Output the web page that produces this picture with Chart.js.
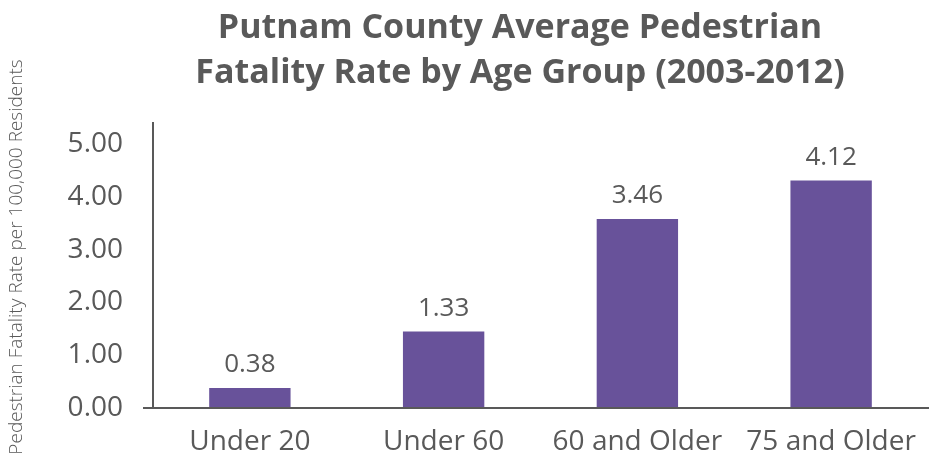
<!DOCTYPE html>
<html>
<head>
<meta charset="utf-8">
<script src="https://cdn.jsdelivr.net/npm/chart.js@4"></script>
<style>
  html, body { margin: 0; padding: 0; background: #fff; }
  #wrap { width: 937px; height: 455px; }
</style>
</head>
<body>
<div id="wrap"><canvas id="myChart" width="937" height="455"></canvas></div>
<script>
// chart data
const ageGroups = ['Under 20', 'Under 60', '60 and Older', '75 and Older']
// bar heights as drawn in the picture
const barHeights = [0.38, 1.45, 3.58, 4.31]
// numbers printed above the bars
const printedRates = ['0.38', '1.33', '3.46', '4.12']
const yTickValues = [0, 1, 2, 3, 4, 5]
const titleLines = ['Putnam County Average Pedestrian', 'Fatality Rate by Age Group (2003-2012)']
const yTitle = 'Pedestrian Fatality Rate per 100,000 Residents'

const grey = '#595959'
const purple = '#68529A'
const fontName = "'Open Sans', 'Noto Sans', sans-serif"

// draws the title lines, the y axis title and the numbers above the bars
const textPlugin = {
    id: 'textPlugin',
    afterDatasetsDraw(chart) {
        const ctx = chart.ctx
        ctx.save()
        ctx.fillStyle = grey
        ctx.textAlign = 'center'
        ctx.textBaseline = 'alphabetic'
        ctx.font = `bold 34px ${fontName}`
        ctx.fillText(titleLines[0], 520, 38)
        ctx.fillText(titleLines[1], 520, 83)

        ctx.font = `26px ${fontName}`
        ctx.textBaseline = 'middle'
        const meta = chart.getDatasetMeta(0)
        meta.data.forEach((bar, i) => {
            ctx.fillText(printedRates[i], bar.x, bar.y - 23)
        })

        ctx.save()
        ctx.translate(17, 257)
        ctx.rotate(-Math.PI / 2)
        ctx.font = `300 19px ${fontName}`
        ctx.fillText(yTitle, 0, 0)
        ctx.restore()
        ctx.restore()
    }
}

let data = {
    labels: ageGroups,
    datasets: [{
        data: barHeights,
        backgroundColor: purple,
        borderWidth: 0,
        barPercentage: 0.42,
        categoryPercentage: 1
    }]
}

let config = {
    type: 'bar',
    data: data,
    options: {
        responsive: false,
        animation: false,
        layout: { padding: { top: 123, right: 9, left: 0, bottom: 0 } },
        plugins: {
            legend: { display: false },
            tooltip: { enabled: false },
            title: { display: false }
        },
        scales: {
            x: {
                grid: { display: false, drawTicks: false },
                border: { display: true, color: grey, width: 2 },
                ticks: { color: grey, font: { family: fontName, size: 28 }, padding: 17 },
                afterFit: s => { s.height = 47 }
            },
            y: {
                min: 0,
                max: 5.4,
                afterBuildTicks: s => { s.ticks = yTickValues.map(v => ({ value: v })) },
                grid: {
                    drawOnChartArea: false,
                    tickLength: 10,
                    lineWidth: 2,
                    color: c => (c.tick && c.tick.value === 0) ? grey : 'rgba(0,0,0,0)'
                },
                border: { display: true, color: grey, width: 2 },
                ticks: {
                    color: grey,
                    font: { family: fontName, size: 28 },
                    padding: 20,
                    callback: v => Number(v).toFixed(2)
                },
                afterFit: s => { s.width = 153 }
            }
        }
    },
    plugins: [textPlugin]
}

let myChart = new Chart(document.getElementById('myChart'), config)
</script>
</body>
</html>
